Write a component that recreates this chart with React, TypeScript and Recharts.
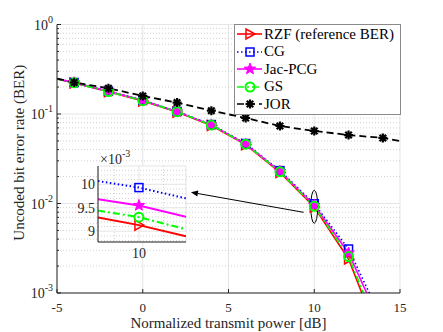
import React from "react";
import {
  LineChart,
  Line,
  XAxis,
  YAxis,
  CartesianGrid,
  Legend,
  ReferenceLine,
  ReferenceDot,
} from "recharts";

const FONT = '"Liberation Serif", "Times New Roman", serif';
const AXIS = "#262626";
const GRID = "#dedede";
const MINOR = "#c6c6c6";

// normalized transmit power [dB]
const powerDb = [-5, -4, -2, 0, 2, 4, 6, 8, 10, 12, 14, 15];
const markerPowers = [-4, -2, 0, 2, 4, 6, 8, 10, 12, 14];

// uncoded BER per detector
const rzfBer = [0.246, 0.222, 0.177, 0.14, 0.105, 0.0745, 0.0455, 0.0222, 0.00913, 0.0024, 0.00025, null];
const cgBer = [0.248, 0.225, 0.18, 0.143, 0.107, 0.0762, 0.0468, 0.0233, 0.00993, 0.0031, 0.00048, null];
const jacBer = [0.247, 0.224, 0.179, 0.142, 0.106, 0.0756, 0.0462, 0.0229, 0.00955, 0.0028, 0.0004, null];
const gsBer = [0.247, 0.223, 0.178, 0.141, 0.106, 0.0752, 0.046, 0.0226, 0.0093, 0.00255, 0.0003, null];
const jorBer = [0.248, 0.225, 0.194, 0.159, 0.134, 0.109, 0.0902, 0.0734, 0.0646, 0.0582, 0.054, 0.05];

const xTicks = [-5, 0, 5, 10, 15];
const yMajor = [0.001, 0.01, 0.1, 1];
const yMinor = [
  0.002, 0.003, 0.004, 0.005, 0.006, 0.007, 0.008, 0.009,
  0.02, 0.03, 0.04, 0.05, 0.06, 0.07, 0.08, 0.09,
  0.2, 0.3, 0.4, 0.5, 0.6, 0.7, 0.8, 0.9,
];
const yAll = [...yMajor, ...yMinor].sort((a, b) => a - b);

// zoomed inset around 10 dB (BER x 1e-3)
const insetPower = [9.98, 10, 10.023];
const insetRzf = [9.29, 9.13, 8.89];
const insetCg = [10.07, 9.93, 9.7];
const insetJac = [9.68, 9.55, 9.31];
const insetGs = [9.44, 9.3, 9.04];
const insetYTicks = [9, 9.5, 10];
const insetXTicks = [10];
const insetMinorY = [8.8, 8.9, 9.1, 9.2, 9.3, 9.4, 9.6, 9.7, 9.8, 9.9, 10.1, 10.2, 10.3];
const insetMinorX = [9.988, 10.012];

const series = [
  { key: "rzf", name: "RZF (reference BER)", color: "#ff0000", dash: undefined, marker: "triangle" },
  { key: "cg", name: "CG", color: "#0000ff", dash: "1.5 2.5", marker: "square" },
  { key: "jac", name: "Jac-PCG", color: "#ff00ff", dash: undefined, marker: "star" },
  { key: "gs", name: "GS", color: "#00ff00", dash: "7 3 2 3", marker: "circle" },
  { key: "jor", name: "JOR", color: "#000000", dash: "7 4", marker: "asterisk" },
];

const rows = powerDb.map((p, i) => ({
  power: p,
  rzf: rzfBer[i],
  cg: cgBer[i],
  jac: jacBer[i],
  gs: gsBer[i],
  jor: jorBer[i],
}));

const insetRows = insetPower.map((p, i) => ({
  power: p,
  rzf: insetRzf[i],
  cg: insetCg[i],
  jac: insetJac[i],
  gs: insetGs[i],
}));

function Marker({ kind, cx, cy, color }: { kind: string; cx: number; cy: number; color: string }) {
  if (kind === "triangle") {
    return (
      <polygon
        points={`${cx + 5},${cy} ${cx - 4},${cy - 5} ${cx - 4},${cy + 5}`}
        fill="none"
        stroke={color}
        strokeWidth={1.5}
      />
    );
  }
  if (kind === "square") {
    return <rect x={cx - 4} y={cy - 4} width={8} height={8} fill="none" stroke={color} strokeWidth={1.5} />;
  }
  if (kind === "star") {
    const pts: string[] = [];
    for (let k = 0; k < 10; k++) {
      const r = k % 2 === 0 ? 6 : 2.5;
      const a = -Math.PI / 2 + (k * Math.PI) / 5;
      pts.push(`${cx + r * Math.cos(a)},${cy + r * Math.sin(a)}`);
    }
    return <polygon points={pts.join(" ")} fill={color} stroke={color} strokeWidth={1} />;
  }
  if (kind === "circle") {
    return <circle cx={cx} cy={cy} r={4.5} fill="none" stroke={color} strokeWidth={2} />;
  }
  // asterisk
  const r = 4.5;
  const d = r * 0.72;
  return (
    <g stroke={color} strokeWidth={2.2}>
      <line x1={cx - r} x2={cx + r} y1={cy} y2={cy} />
      <line x1={cx} x2={cx} y1={cy - r} y2={cy + r} />
      <line x1={cx - d} x2={cx + d} y1={cy - d} y2={cy + d} />
      <line x1={cx - d} x2={cx + d} y1={cy + d} y2={cy - d} />
    </g>
  );
}

const dotFor = (kind: string, color: string, shown: number[]) => (props: any) => {
  const { cx, cy, payload, index } = props;
  if (cx == null || cy == null || !shown.includes(payload.power)) return <g key={`n-${index}`} />;
  return (
    <g key={`m-${index}`}>
      <Marker kind={kind} cx={cx} cy={cy} color={color} />
    </g>
  );
};

function XTick(props: any) {
  const { x, y, payload } = props;
  return (
    <g>
      <line x1={x} x2={x} y1={y} y2={y - 4} stroke={AXIS} />
      <text x={x} y={y + 18.5} textAnchor="middle" fontFamily={FONT} fontSize={13} fill={AXIS}>
        {payload.value}
      </text>
    </g>
  );
}

function YTick(props: any) {
  const { x, y, payload } = props;
  const major = yMajor.includes(payload.value);
  return (
    <g>
      <line x1={x} x2={x + (major ? 4 : 2)} y1={y} y2={y} stroke={AXIS} />
      {major && (
        <text x={x - 4} y={y + 5} textAnchor="end" fontFamily={FONT} fontSize={14} fill={AXIS}>
          10
          <tspan dy={-7} fontSize={10}>
            {String(Math.round(Math.log10(payload.value)))}
          </tspan>
        </text>
      )}
    </g>
  );
}

function TopTick(props: any) {
  const { x, y } = props;
  return <line x1={x} x2={x} y1={y} y2={y + 4} stroke={AXIS} />;
}

function RightTick(props: any) {
  const { x, y, payload } = props;
  const major = yMajor.includes(payload.value);
  return <line x1={x} x2={x - (major ? 4 : 2)} y1={y} y2={y} stroke={AXIS} />;
}

function XLabel(props: any) {
  const vb = props.viewBox || { x: 57, y: 293, width: 343, height: 39 };
  return (
    <text x={vb.x + vb.width / 2} y={vb.y + 35} textAnchor="middle" fontFamily={FONT} fontSize={15} fill={AXIS}>
      Normalized transmit power [dB]
    </text>
  );
}

function YLabel(props: any) {
  const vb = props.viewBox || { x: 12, y: 24.5, width: 45, height: 268.5 };
  const x = vb.x + 12;
  const y = vb.y + vb.height / 2 - 6;
  return (
    <text x={x} y={y} transform={`rotate(-90 ${x} ${y})`} textAnchor="middle" fontFamily={FONT} fontSize={15} fill={AXIS}>
      Uncoded bit error rate (BER)
    </text>
  );
}

function Ellipse(props: any) {
  const { cx, cy } = props;
  if (cx == null || cy == null) return <g />;
  return <ellipse cx={cx} cy={cy} rx={3.5} ry={16.5} fill="none" stroke="#000" strokeWidth={1} />;
}

function Arrow(props: any) {
  const { x1, y1, x2, y2 } = props;
  if (x1 == null) return <g />;
  const a = Math.atan2(y2 - y1, x2 - x1);
  const L = 7;
  const W = 3;
  const bx = x2 - L * Math.cos(a);
  const by = y2 - L * Math.sin(a);
  const px = -Math.sin(a) * W;
  const py = Math.cos(a) * W;
  return (
    <g>
      <line x1={x1} y1={y1} x2={bx} y2={by} stroke="#000" strokeWidth={1} />
      <polygon points={`${x2},${y2} ${bx + px},${by + py} ${bx - px},${by - py}`} fill="#000" />
    </g>
  );
}

function LegendBox() {
  return (
    <div
      style={{
        border: "1px solid #8a8a8a",
        background: "#fff",
        fontFamily: FONT,
        fontSize: 15,
        padding: "1px 0",
        width: 167,
        boxSizing: "border-box",
        color: "#000",
      }}
    >
      {series.map((s) => (
        <div key={s.key} style={{ display: "flex", alignItems: "center", height: 17.5 }}>
          <svg width={28} height={16} style={{ flex: "none" }}>
            <line x1={2} x2={27} y1={8} y2={8} stroke={s.color} strokeWidth={1.6} strokeDasharray={s.dash} />
            <Marker kind={s.marker} cx={15} cy={8} color={s.color} />
          </svg>
          <span style={{ lineHeight: "17.5px", whiteSpace: "nowrap", marginLeft: 1 }}>{s.name}</span>
        </div>
      ))}
    </div>
  );
}

function InsetExp(props: any) {
  const vb = props.viewBox || { x: 0, y: 20, width: 28, height: 76 };
  return (
    <text x={vb.x + vb.width + 2} y={vb.y - 2} fontFamily={FONT} fontSize={14} fill={AXIS}>
      ×10
      <tspan dy={-7} fontSize={10}>
        -3
      </tspan>
    </text>
  );
}

function InsetYTick(props: any) {
  const { x, y, payload } = props;
  return (
    <text x={x - 3} y={y + 5} textAnchor="end" fontFamily={FONT} fontSize={14} fill={AXIS}>
      {payload.value}
    </text>
  );
}

function InsetXTick(props: any) {
  const { x, y, payload } = props;
  return (
    <text x={x} y={y + 16} textAnchor="middle" fontFamily={FONT} fontSize={14} fill={AXIS}>
      {payload.value}
    </text>
  );
}

function Inset() {
  return (
    <LineChart width={124} height={114} data={insetRows} margin={{ top: 20, right: 8, bottom: 0, left: 0 }}>
      <CartesianGrid fill="#fff" stroke={GRID} strokeWidth={0.8} />
      <CartesianGrid
        stroke={MINOR}
        strokeWidth={0.8}
        strokeDasharray="1 2"
        horizontalValues={insetMinorY}
        verticalValues={insetMinorX}
      />
      <XAxis
        dataKey="power"
        type="number"
        domain={[9.98, 10.023]}
        ticks={insetXTicks}
        allowDataOverflow
        height={18}
        tickSize={0}
        tickMargin={0}
        tick={<InsetXTick />}
        axisLine={{ stroke: AXIS }}
      />
      <XAxis xAxisId="top" orientation="top" type="number" domain={[9.98, 10.023]} height={0} tick={false} axisLine={{ stroke: AXIS }} />
      <YAxis
        type="number"
        domain={[8.77, 10.39]}
        ticks={insetYTicks}
        allowDataOverflow
        width={28}
        tickSize={0}
        tickMargin={0}
        interval={0}
        tick={<InsetYTick />}
        axisLine={{ stroke: AXIS }}
        label={<InsetExp />}
      />
      <YAxis yAxisId="right" orientation="right" type="number" domain={[8.77, 10.39]} width={0} tick={false} axisLine={{ stroke: AXIS }} />
      {series
        .filter((s) => s.key !== "jor")
        .map((s) => (
          <Line
            key={s.key}
            dataKey={s.key}
            stroke={s.color}
            strokeWidth={2}
            strokeDasharray={s.dash}
            dot={dotFor(s.marker, s.color, insetXTicks)}
            activeDot={false}
            isAnimationActive={false}
          />
        ))}
    </LineChart>
  );
}

export default function App() {
  return (
    <div style={{ position: "absolute", left: 0, top: 0, width: 443, height: 332, background: "#fff" }}>
      <LineChart width={443} height={332} data={rows} margin={{ top: 24.5, right: 43, bottom: 0, left: 12 }}>
        <CartesianGrid fill="#fff" stroke={GRID} strokeWidth={0.8} horizontalValues={yMajor} verticalValues={xTicks} />
        <CartesianGrid stroke={MINOR} strokeWidth={0.8} strokeDasharray="1 2" horizontalValues={yMinor} vertical={false} />
        <XAxis
          dataKey="power"
          type="number"
          domain={[-5, 15]}
          ticks={xTicks}
          allowDataOverflow
          height={39}
          tickSize={0}
          tickMargin={0}
          interval={0}
          tick={<XTick />}
          axisLine={{ stroke: AXIS }}
          label={<XLabel />}
        />
        <XAxis
          xAxisId="top"
          orientation="top"
          type="number"
          domain={[-5, 15]}
          ticks={xTicks}
          allowDataOverflow
          height={0}
          tickSize={0}
          tickMargin={0}
          interval={0}
          tick={<TopTick />}
          axisLine={{ stroke: AXIS }}
        />
        <YAxis
          type="number"
          scale="log"
          domain={[0.001, 1]}
          ticks={yAll}
          allowDataOverflow
          width={45}
          tickSize={0}
          tickMargin={0}
          interval={0}
          tick={<YTick />}
          axisLine={{ stroke: AXIS }}
          label={<YLabel />}
        />
        <YAxis
          yAxisId="right"
          orientation="right"
          type="number"
          scale="log"
          domain={[0.001, 1]}
          ticks={yAll}
          allowDataOverflow
          width={0}
          tickSize={0}
          tickMargin={0}
          interval={0}
          tick={<RightTick />}
          axisLine={{ stroke: AXIS }}
        />
        {series.map((s) => (
          <Line
            key={s.key}
            dataKey={s.key}
            name={s.name}
            stroke={s.color}
            strokeWidth={s.key === "jor" ? 1.8 : 1.6}
            strokeDasharray={s.dash}
            dot={dotFor(s.marker, s.color, markerPowers)}
            activeDot={false}
            isAnimationActive={false}
          />
        ))}
        <ReferenceDot x={10} y={0.0092} r={4} shape={(p: any) => <Ellipse {...p} />} />
        <ReferenceLine
          segment={[
            { x: 9.38, y: 0.00797 },
            { x: 2.81, y: 0.01334 },
          ]}
          shape={(p: any) => <Arrow {...p} />}
        />
        <Legend
          layout="vertical"
          align="center"
          verticalAlign="middle"
          content={() => <LegendBox />}
          wrapperStyle={{ left: 234, top: 23.5, width: 167, height: 90 }}
        />
      </LineChart>
      <div style={{ position: "absolute", left: 70, top: 146 }}>
        <Inset />
      </div>
    </div>
  );
}
